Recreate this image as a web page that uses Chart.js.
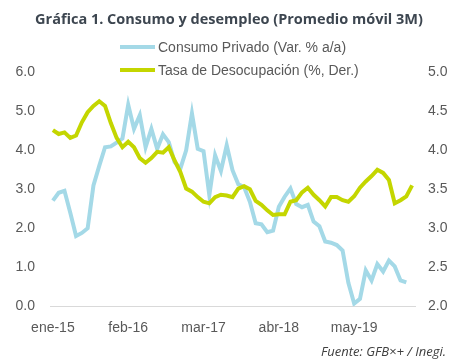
<!DOCTYPE html>
<html>
<head>
<meta charset="utf-8">
<script src="https://cdn.jsdelivr.net/npm/chart.js@4/dist/chart.umd.min.js"></script>
<style>
  body { margin: 0; background: #fff; }
  #wrap { position: relative; width: 458px; height: 363px; }
  #legend { position: absolute; left: 120px; top: 38px; font: 14px "Liberation Sans", Arial, sans-serif; color: #595959; }
  #legend div { height: 23px; line-height: 18px; white-space: nowrap; }
  #legend span.sw { display: inline-block; width: 35px; height: 4px; vertical-align: middle; margin-right: 3px; position: relative; top: -1px; }
  #source { position: absolute; right: 12px; top: 342px; font: italic 13px "Open Sans", sans-serif; color: #404040; }
</style>
</head>
<body>
<div id="wrap">
  <canvas id="grafica" width="458" height="363"></canvas>
  <div id="legend"></div>
  <div id="source">Fuente: GFB×+ / Inegi.</div>
</div>
<script>
var meses = ["ene", "feb", "mar", "abr", "may", "jun", "jul", "ago", "sep", "oct", "nov", "dic"];
var etiquetas = [];
for (var a = 15; a <= 20; a++) {
    for (var m = 0; m < 12; m++) {
        if (etiquetas.length < 63) etiquetas.push(meses[m] + "-" + a);
    }
}

var consumo = [2.71, 2.91, 2.96, 2.40, 1.80, 1.88, 2.00, 3.10, 3.60, 4.08,
    4.10, 4.20, 4.30, 5.17, 4.55, 4.90, 4.08, 4.55, 4.04, 4.41,
    4.21, 3.70, 3.53, 4.00, 4.95, 4.04, 3.98, 2.85, 3.87, 3.47,
    4.13, 3.49, 3.13, 3.06, 2.68, 2.13, 2.10, 1.90, 1.94, 2.55,
    2.81, 3.02, 2.62, 2.54, 2.60, 2.17, 2.05, 1.66, 1.63, 1.57,
    1.43, 0.60, 0.07, 0.19, 0.92, 0.66, 1.08, 0.89, 1.17, 1.02,
    0.66, 0.61, null];

var desocupacion = [4.26, 4.21, 4.23, 4.16, 4.19, 4.36, 4.49, 4.57, 4.63, 4.57,
    4.35, 4.16, 4.04, 4.11, 4.04, 3.90, 3.84, 3.90, 3.98, 3.97,
    4.04, 3.87, 3.72, 3.51, 3.47, 3.40, 3.34, 3.32, 3.40, 3.43,
    3.42, 3.40, 3.51, 3.54, 3.50, 3.35, 3.30, 3.23, 3.17, 3.18,
    3.18, 3.34, 3.36, 3.46, 3.52, 3.43, 3.36, 3.28, 3.40, 3.40,
    3.36, 3.34, 3.41, 3.52, 3.60, 3.67, 3.75, 3.71, 3.62, 3.32,
    3.36, 3.41, 3.55];

var series = ["Consumo Privado (Var. % a/a)", "Tasa de Desocupación (%, Der.)"];
var colores = ["#a4d9e7", "#c4d600"];

var ticksFont = { family: "'Liberation Sans', Arial, sans-serif", size: 14 };

var chart = new Chart("grafica", {
    type: "line",
    data: {
        labels: etiquetas,
        datasets: [{
            label: series[0],
            data: consumo,
            borderColor: colores[0],
            borderWidth: 4,
            pointRadius: 0,
            yAxisID: "y",
            order: 2
        }, {
            label: series[1],
            data: desocupacion,
            borderColor: colores[1],
            borderWidth: 4,
            pointRadius: 0,
            yAxisID: "y1",
            order: 1
        }]
    },
    options: {
        responsive: false,
        animation: false,
        layout: { padding: { bottom: 12 } },
        plugins: {
            legend: { display: false },
            tooltip: { enabled: false },
            title: {
                display: true,
                text: "Gráfica 1. Consumo y desempleo (Promedio móvil 3M)",
                color: "#3d4650",
                font: { family: "'Open Sans', sans-serif", size: 14.5, weight: "bold" },
                padding: { top: 11, bottom: 44 }
            }
        },
        scales: {
            x: {
                offset: true,
                grid: { display: false, drawTicks: false },
                border: { color: "#d9d9d9" },
                ticks: {
                    autoSkip: false,
                    maxRotation: 0,
                    padding: 14,
                    color: "#595959",
                    font: ticksFont,
                    callback: function (v, i) { return i % 13 === 0 ? etiquetas[i] : ""; }
                }
            },
            y: {
                position: "left",
                min: 0, max: 6,
                grid: { display: false, drawTicks: false },
                border: { display: false },
                ticks: {
                    stepSize: 1,
                    padding: 15,
                    color: "#595959",
                    font: ticksFont,
                    callback: function (v) { return v.toFixed(1); }
                },
                afterFit: function (s) { s.width = 50; }
            },
            y1: {
                position: "right",
                min: 2, max: 5,
                grid: { display: false, drawTicks: false },
                border: { display: false },
                ticks: {
                    stepSize: 0.5,
                    padding: 13,
                    color: "#595959",
                    font: ticksFont,
                    callback: function (v) { return v.toFixed(1); }
                },
                afterFit: function (s) { s.width = 43; }
            }
        }
    }
});

var leg = document.getElementById("legend");
series.forEach(function (s, i) {
    var row = document.createElement("div");
    row.innerHTML = '<span class="sw" style="background:' + colores[i] + '"></span>' + s;
    leg.appendChild(row);
});
</script>
</body>
</html>
